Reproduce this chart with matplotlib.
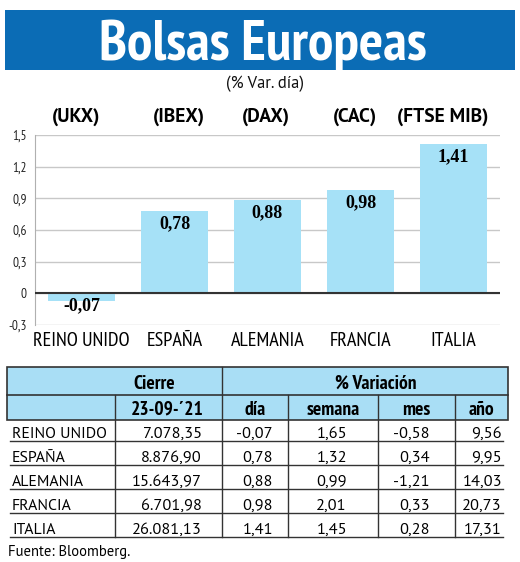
import matplotlib
matplotlib.use('Agg')
import matplotlib.pyplot as plt
from matplotlib.patches import Rectangle
from matplotlib.ticker import FuncFormatter

# --- datos ---
paises = ['REINO UNIDO', 'ESPAÑA', 'ALEMANIA', 'FRANCIA', 'ITALIA']
indices = ['(UKX)', '(IBEX)', '(DAX)', '(CAC)', '(FTSE MIB)']
var_dia = [-0.07, 0.78, 0.88, 0.98, 1.41]
cierre = [7078.35, 8876.90, 15643.97, 6701.98, 26081.13]
var_semana = [1.65, 1.32, 0.99, 2.01, 1.45]
var_mes = [-0.58, 0.34, -1.21, 0.33, 0.28]
var_anio = [9.56, 9.95, 14.03, 20.73, 17.31]
y_ticks = [-0.3, 0, 0.3, 0.6, 0.9, 1.2, 1.5]

W, H = 520, 562
AZUL = '#0b6cb5'
CELESTE = '#a6e1f7'
CABECERA = '#a9def5'
LINEA = '#333333'

NARROW = ['PT Sans Narrow', 'DejaVu Sans']
SANS = ['PT Sans', 'DejaVu Sans']
SERIF = ['Liberation Serif', 'DejaVu Serif']


def es(v, dec=2):
    """Formato numerico espanol: 15.643,97"""
    s = f"{v:,.{dec}f}"
    return s.replace(',', 'X').replace('.', ',').replace('X', '.')


fig = plt.figure(figsize=(W / 100, H / 100), dpi=100)

# lienzo en pixeles para titulo, tabla y textos
cv = fig.add_axes([0, 0, 1, 1])
cv.set_xlim(0, W)
cv.set_ylim(H, 0)
cv.axis('off')

cv.add_patch(Rectangle((5, 10), 510, 60, color=AZUL, lw=0))
cv.text(263, 60, 'Bolsas Europeas', color='white', fontsize=41,
        fontweight='bold', family=NARROW, ha='center', va='baseline')
cv.text(265, 88, '(% Var. día)', fontsize=12, family=SANS,
        ha='center', va='baseline', color='#111111')

# --- grafico de barras ---
ax = fig.add_axes([35 / W, 1 - 325 / H, 465 / W, 190 / H])
x = list(range(len(paises)))
ax.bar(x, var_dia, width=0.72, color=CELESTE, zorder=2)
ax.set_xlim(-0.5, 4.5)
ax.set_ylim(-0.3, 1.5)
ax.set_yticks(y_ticks)
ax.yaxis.set_major_formatter(FuncFormatter(lambda t, p: es(t, 1) if abs(t) > 1e-9 else '0'))
ax.yaxis.grid(True, color='#c8c8c8', lw=1)
ax.set_axisbelow(True)
ax.axhline(0, color=LINEA, lw=1.5, zorder=3)
for s in ['top', 'right', 'bottom']:
    ax.spines[s].set_visible(False)
ax.spines['left'].set_color('#b0b0b0')
ax.set_xticks(x, paises)
ax.tick_params(axis='x', length=0, pad=5, labelsize=14.5)
ax.tick_params(axis='y', length=0, pad=6, labelsize=9.5, labelcolor='#222222')
for lab in ax.get_xticklabels() + ax.get_yticklabels():
    lab.set_family(NARROW)

# el rotulo del indice va un poco a la izquierda, como en el original
dx_indice = [-4, 3, -1, -4, -8]
for i, v in enumerate(var_dia):
    off = -9 if v >= 0 else -3.5
    ax.annotate(es(v), (i, v), xytext=(0, off), textcoords='offset points',
                ha='center', va='center', fontsize=13, fontweight='bold',
                family=SERIF, zorder=4)
    ax.annotate(indices[i], (i, 1.5), xytext=(dx_indice[i], 13), textcoords='offset points',
                ha='center', va='center', fontsize=14, fontweight='bold',
                family=SANS, annotation_clip=False)

# --- tabla ---
cv.add_patch(Rectangle((7, 367), 501, 53, facecolor=CABECERA,
                       edgecolor=LINEA, lw=1.2))
cv.plot([7, 508], [395, 395], color=LINEA, lw=1.2)
cv.plot([222, 222], [367, 537], color=LINEA, lw=1.0)
for xv in [115, 288, 378, 455]:
    cv.plot([xv, xv], [395, 537], color=LINEA, lw=1.0)

cv.text(154, 389, 'Cierre', fontsize=14, fontweight='bold', family=NARROW,
        ha='center', va='baseline')
cv.text(376, 389, '% Variación', fontsize=14, fontweight='bold', family=NARROW,
        ha='center', va='baseline')
sub = [('23-09-´21', 167), ('día', 255), ('semana', 333), ('mes', 416), ('año', 481)]
for txt, xc in sub:
    cv.text(xc, 415, txt, fontsize=14, fontweight='bold', family=NARROW,
            ha='center', va='baseline')

filas_y = [441, 465, 489, 513, 537]
col_der = [202, 273, 347, 430, 502]
for r, yl in enumerate(filas_y):
    cv.plot([10, 503], [yl, yl], color=LINEA, lw=1.0)
    cv.text(12, yl - 3, paises[r], fontsize=11.3, family=SANS, ha='left', va='baseline')
    vals = [cierre[r], var_dia[r], var_semana[r], var_mes[r], var_anio[r]]
    for xr, v in zip(col_der, vals):
        cv.text(xr, yl - 3, es(v), fontsize=11.8, family=SANS, ha='right', va='baseline')

cv.text(8, 556, 'Fuente: Bloomberg.', fontsize=10.5, family=SANS,
        ha='left', va='baseline')

fig.savefig('out.png', dpi=100)
